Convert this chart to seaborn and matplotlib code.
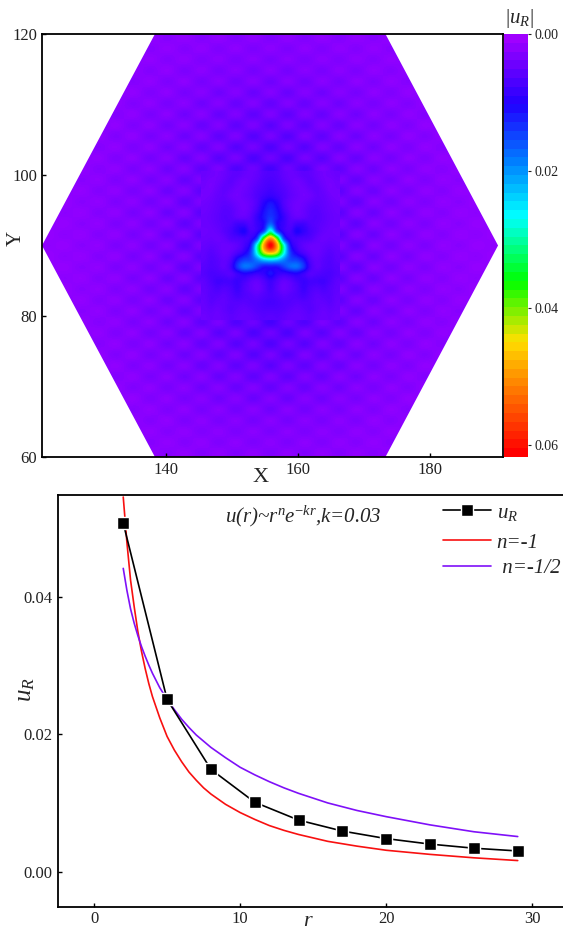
import numpy as np
import seaborn as sns
import matplotlib.pyplot as plt
from matplotlib.cm import ScalarMappable
from matplotlib.colors import LinearSegmentedColormap, Normalize
from matplotlib.patches import Polygon

# field |u_R| in units of 1e-4. Far field is typed for one quadrant (x right of the centre,
# y above it) and mirrored, the core is typed for the right half only
center_x = 155.8
center_y = 90
bg_step_x = 2.6
bg_step_y = 1.55
bg_field = [
    [14, 24, 14, 23, 13, 21, 12, 19, 11, 17, 10, 16, 9, 14, 9],
    [26, 15, 25, 14, 23, 13, 21, 12, 19, 11, 17, 10, 15, 9, 14],
    [17, 28, 16, 26, 15, 23, 13, 21, 12, 18, 10, 16, 9, 14, 9],
    [30, 18, 29, 17, 26, 15, 23, 13, 20, 11, 18, 10, 15, 9, 14],
    [19, 34, 19, 31, 17, 28, 14, 23, 13, 19, 11, 17, 10, 15, 9],
    [38, 20, 36, 19, 32, 16, 27, 14, 22, 12, 18, 10, 16, 9, 14],
    [23, 42, 22, 38, 20, 32, 16, 26, 13, 20, 11, 17, 10, 15, 9],
    [46, 25, 43, 22, 38, 19, 31, 16, 25, 13, 20, 11, 16, 9, 14],
    [27, 50, 26, 44, 21, 37, 18, 30, 15, 23, 12, 18, 10, 15, 9],
    [54, 29, 50, 25, 43, 20, 35, 17, 27, 13, 21, 11, 17, 9, 14],
    [32, 57, 28, 49, 23, 40, 19, 32, 15, 25, 12, 19, 10, 15, 9],
    [62, 34, 56, 27, 46, 21, 37, 17, 29, 14, 22, 11, 17, 9, 14],
    [38, 64, 32, 54, 25, 44, 20, 34, 16, 26, 13, 19, 10, 15, 9],
    [72, 39, 62, 30, 50, 23, 39, 18, 30, 15, 22, 12, 17, 9, 14],
    [46, 72, 35, 58, 27, 46, 21, 35, 16, 27, 14, 20, 10, 15, 9],
    [80, 44, 66, 32, 52, 24, 41, 18, 31, 15, 23, 12, 17, 9, 14],
    [50, 76, 37, 60, 28, 48, 21, 36, 17, 27, 14, 20, 10, 15, 9],
    [86, 47, 68, 33, 54, 24, 42, 18, 32, 15, 23, 12, 17, 9, 14],
    [53, 79, 38, 62, 28, 49, 21, 36, 17, 28, 14, 20, 10, 15, 9],
    [88, 47, 68, 33, 54, 24, 42, 18, 32, 15, 23, 12, 17, 9, 14],
    [53, 80, 38, 62, 28, 50, 21, 36, 17, 28, 14, 20, 10, 15, 9],
]

# finer table for the core, 1 unit spacing, y from 100 down to 80
core_field = [
    [62, 58, 48, 42, 45, 52, 50, 42, 36, 38, 42],
    [66, 62, 52, 44, 38, 44, 52, 46, 38, 34, 38],
    [72, 66, 58, 48, 40, 38, 46, 50, 42, 34, 36],
    [82, 74, 62, 50, 42, 36, 40, 48, 46, 38, 34],
    [110, 92, 62, 46, 38, 40, 48, 52, 48, 42, 38],
    [125, 105, 70, 48, 38, 44, 54, 56, 50, 44, 40],
    [135, 112, 82, 55, 45, 48, 56, 58, 52, 46, 42],
    [170, 105, 80, 62, 75, 75, 62, 56, 50, 44, 42],
    [290, 150, 85, 70, 100, 85, 68, 56, 46, 42, 40],
    [500, 380, 150, 80, 70, 65, 60, 48, 42, 44, 42],
    [620, 490, 290, 115, 70, 52, 44, 42, 46, 50, 46],
    [480, 430, 280, 140, 90, 65, 48, 42, 50, 56, 50],
    [250, 235, 190, 150, 140, 110, 62, 48, 55, 60, 52],
    [110, 110, 140, 170, 175, 135, 72, 50, 58, 62, 56],
    [110, 85, 78, 88, 95, 78, 58, 60, 65, 66, 58],
    [78, 62, 48, 55, 70, 80, 72, 72, 74, 64, 52],
    [72, 55, 42, 50, 62, 78, 66, 60, 66, 58, 50],
    [66, 60, 52, 56, 62, 70, 60, 52, 56, 56, 48],
    [70, 66, 60, 58, 55, 58, 56, 50, 50, 54, 46],
    [62, 62, 58, 52, 48, 52, 56, 50, 44, 48, 44],
    [54, 56, 52, 46, 44, 48, 52, 46, 42, 44, 40],
]

hex_x = [121.2, 138.3, 173.2, 190.25, 173.2, 138.3]
hex_y = [90, 120, 120, 90, 60, 60]
cut_x = [155.8, 155.8]
cut_y = [120, 90]

# radial profile
r_points = [2, 5, 8, 11, 14, 17, 20, 23, 26, 29]
u_points = [0.0508, 0.0251, 0.0149, 0.0101, 0.0075, 0.0059, 0.0048, 0.0040, 0.0034, 0.0030]
r_curve = [2, 2.25, 2.5, 2.75, 3, 3.25, 3.5, 3.75, 4, 4.5, 5, 5.5, 6, 6.5, 7, 7.5, 8, 9, 10, 11, 12, 13, 14,
           16, 18, 20, 23, 26, 29]
u_n1 = [0.0546, 0.0480, 0.0425, 0.0386, 0.0350, 0.0321, 0.0296, 0.0274, 0.0255, 0.0224, 0.0197, 0.0177,
        0.0160, 0.0145, 0.0133, 0.0122, 0.0113, 0.0098, 0.0086, 0.0076, 0.0067, 0.0060, 0.0054, 0.0044,
        0.0037, 0.0031, 0.0025, 0.0020, 0.0016]
u_n2 = [0.0442, 0.0410, 0.0383, 0.0362, 0.0344, 0.0328, 0.0314, 0.0301, 0.0289, 0.0268, 0.0251, 0.0236,
        0.0222, 0.0210, 0.0199, 0.0190, 0.0181, 0.0166, 0.0152, 0.0141, 0.0131, 0.0122, 0.0114, 0.0100,
        0.0089, 0.0080, 0.0068, 0.0058, 0.0051]

W, H = 563, 931
SERIF = 'Liberation Serif'
sns.set_theme(style='ticks')
plt.rcParams['font.family'] = [SERIF, 'DejaVu Serif']
plt.rcParams['mathtext.fontset'] = 'custom'
plt.rcParams['mathtext.rm'] = SERIF
plt.rcParams['mathtext.it'] = SERIF + ':italic'


def pixel_axes(fig, left, top, right, bottom):
    return fig.add_axes([left / W, 1 - bottom / H, (right - left) / W, (bottom - top) / H])


def style_axes(ax):
    for s in ax.spines.values():
        s.set_linewidth(1.3)
        s.set_color('black')
    ax.tick_params(direction='in', length=3, width=1, color='black', labelcolor='#222222', labelsize=12)


stops = [(0.0, '#a000ff'), (0.16, '#2000ff'), (0.30, '#0080ff'), (0.43, '#00ffff'), (0.586, '#00ff00'),
         (0.73, '#ffe000'), (0.80, '#ffa000'), (1.0, '#ff0000')]
rainbow = LinearSegmentedColormap.from_list('rainbow_ur', stops, N=256)
rainbow_steps = LinearSegmentedColormap.from_list('rainbow_steps', stops, N=48)
vmax = 0.0617
norm = Normalize(0, vmax)

fig = plt.figure(figsize=(W / 100, H / 100), dpi=100)

# top panel
ax = pixel_axes(fig, 42, 34, 503, 457)
hexagon = Polygon(list(zip(hex_x, hex_y)), closed=True, transform=ax.transData, facecolor='none', edgecolor='none')
ax.add_patch(hexagon)

bg = np.array(bg_field, dtype=float) * 1e-4
bg = np.hstack([bg[:, :0:-1], bg])
bg = np.vstack([bg, bg[-2::-1]])
half_w = (bg.shape[1] / 2) * bg_step_x
half_h = (bg.shape[0] / 2) * bg_step_y
# catrom goes through the table values, the default bicubic washes the ripples out
im = ax.imshow(bg, extent=[center_x - half_w, center_x + half_w, center_y - half_h, center_y + half_h],
               aspect='auto', cmap=rainbow, norm=norm, interpolation='catrom', interpolation_stage='data')
im.set_clip_path(hexagon)

core = np.array(core_field, dtype=float) * 1e-4
core = np.hstack([core[:, :0:-1], core])
ax.imshow(core, extent=[center_x - 10.5, center_x + 10.5, center_y - 10.5, center_y + 10.5],
          aspect='auto', cmap=rainbow, norm=norm, interpolation='catrom', interpolation_stage='data')

sns.lineplot(x=cut_x, y=cut_y, color='black', linewidth=1, ax=ax, errorbar=None, sort=False)
ax.set_xlim(121.2, 191)
ax.set_ylim(60, 120)
ax.set_xticks([140, 160, 180])
ax.set_yticks([60, 80, 100, 120])
style_axes(ax)
fig.text(261 / W, 1 - 478 / H, 'X', fontsize=16, ha='center', va='center')
fig.text(16 / W, 1 - 238 / H, 'Y', fontsize=15, ha='center', va='center', rotation=90)

cax = pixel_axes(fig, 504, 34, 528, 457)
cb = fig.colorbar(ScalarMappable(norm=norm, cmap=rainbow_steps), cax=cax)
cb.outline.set_visible(False)
cax.set_ylim(vmax, 0)
cb.set_ticks([0, 0.02, 0.04, 0.06], labels=['0.00', '0.02', '0.04', '0.06'])
cax.tick_params(length=2, width=0.8, labelsize=10, pad=3, color='#222222', labelcolor='#222222')
fig.text(519 / W, 1 - 19 / H, r'$|u_R|$', fontsize=15, ha='center', va='center')

# bottom panel
ax2 = pixel_axes(fig, 57.5, 495, 563, 906.5)
sns.lineplot(x=r_curve, y=u_n1, color='#f81010', linewidth=1.2, ax=ax2, label='n=-1', errorbar=None)
sns.lineplot(x=r_curve, y=u_n2, color='#7f10f8', linewidth=1.2, ax=ax2, label=' n=-1/2', errorbar=None)
sns.lineplot(x=r_points, y=u_points, color='black', linewidth=1.2, marker='s', markersize=9,
             markeredgecolor='white', markeredgewidth=1, ax=ax2, label=r'$u_R$', errorbar=None)
ax2.set_xlim(-2.5, 32.1)
ax2.set_ylim(-0.0051, 0.0549)
ax2.set_xticks([0, 10, 20, 30])
ax2.set_yticks([0, 0.02, 0.04], labels=['0.00', '0.02', '0.04'])
style_axes(ax2)
ax2.spines['right'].set_visible(False)
ax2.set_xlabel('')
ax2.set_ylabel('')

# two legends because the first row sits further from the others
handles, labels = ax2.get_legend_handles_labels()
legend_style = dict(frameon=False, loc='upper left', prop={'family': SERIF, 'style': 'italic', 'size': 15},
                    handlelength=2.3, labelspacing=0.3, handletextpad=0.27, borderaxespad=0, borderpad=0)
anchor_x = (443 - 57.5) / (W - 57.5)
first = ax2.legend(handles[2:], labels[2:], bbox_to_anchor=(anchor_x, 1 - 8 / 411.5), **legend_style)
ax2.add_artist(first)
ax2.legend(handles[:2], labels[:2], bbox_to_anchor=(anchor_x, 1 - 38 / 411.5), **legend_style)

fig.text(303 / W, 1 - 516 / H, 'u(r)~r$^{n}$e$^{-kr}$,k=0.03', fontsize=15, style='italic', ha='center', va='center')
fig.text(307 / W, 1 - 921 / H, 'r', fontsize=16, style='italic', ha='center', va='center')
fig.text(26 / W, 1 - 690 / H, r'$u_R$', fontsize=18, ha='center', va='center', rotation=90)

fig.savefig('out.png', dpi=100)
